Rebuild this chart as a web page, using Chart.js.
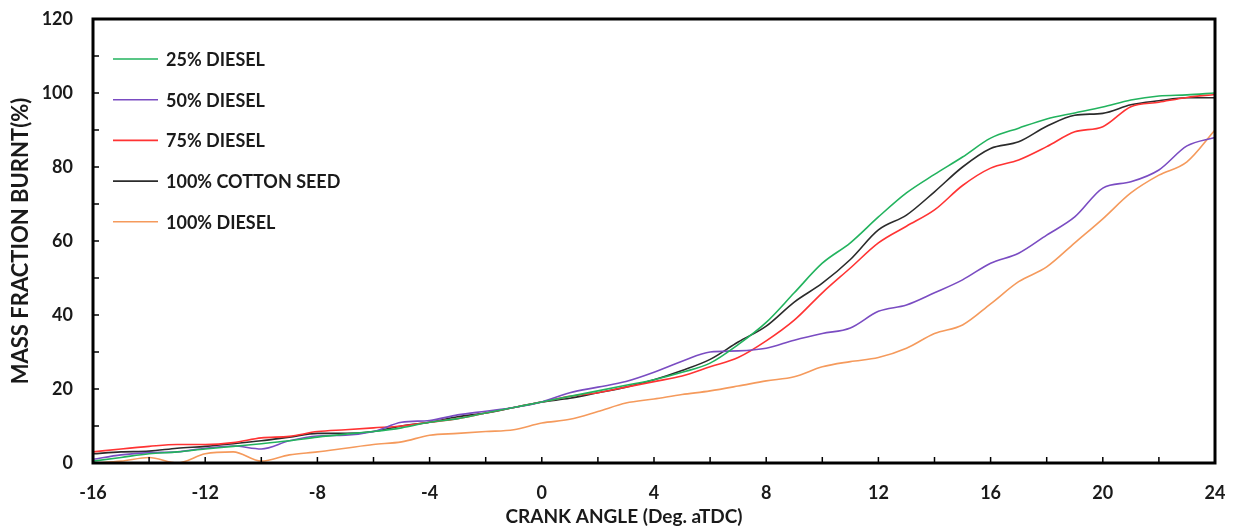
<!DOCTYPE html>
<html>
<head>
<meta charset="utf-8">
<script src="https://cdn.jsdelivr.net/npm/chart.js@4/dist/chart.umd.min.js"></script>
<style>
  html, body { margin: 0; padding: 0; background: #ffffff; }
  #wrap { width: 1233px; height: 527px; position: relative; }
</style>
</head>
<body>
<div id="wrap"><canvas id="c" width="1233" height="527"></canvas></div>
<script>
// Crank angle (deg aTDC)
const crankAngle = [-16,-15,-14,-13,-12,-11,-10,-9,-8,-7,-6,-5,-4,-3,-2,-1,0,1,2,3,4,5,6,7,8,9,10,11,12,13,14,15,16,17,18,19,20,21,22,23,24];

const seriesNames = ["25% DIESEL", "50% DIESEL", "75% DIESEL", "100% COTTON SEED", "100% DIESEL"];
const seriesColors = ["#22b35e", "#7a4cc2", "#ff3333", "#2b2b2b", "#f59a5c"];

const diesel25 = [0.5,1.5,2.5,3,3.8,4.5,5.2,6,7,7.8,8.5,9.5,11,12,13.5,15,16.5,18,19.5,21,22.5,24.5,27,32,38,46,54,59.5,66.5,73,78,82.7,87.8,90.5,93,94.6,96.2,98.1,99.2,99.5,100];
const diesel50 = [1,2.2,2.8,3,4,4.6,3.8,6,7.3,7.5,8.5,11,11.5,13,14,15,16.5,19,20.5,22,24.5,27.5,30,30.3,31,33.2,35,36.5,41,42.7,46,49.5,54,56.7,61.6,66.5,74.3,76,79.2,85.7,88];
const diesel75 = [3,3.8,4.5,5,5,5.5,6.8,7.2,8.5,9,9.5,10,11,12,13.5,15,16.5,18,19,20.5,22,23.5,26,28.5,33,38.6,46,52.7,59.5,64,68.4,75,79.7,81.9,85.5,89.5,90.9,96.3,97.5,98.8,99.6];
const cottonSeed100 = [2.5,3,3.2,4,4.5,5.2,6,7,8,8,8.5,10,11,12.5,13.5,15,16.5,17.5,19,20.5,22.5,25,28,32.7,37,43.5,48.6,55,63,67,73.3,80,85,86.8,91,94,94.5,96.8,97.9,98.7,98.7];
const diesel100 = [0,0.5,1.5,0,2.5,3,0.5,2.2,3,4,5,5.7,7.5,8,8.5,9,10.8,11.8,13.9,16.2,17.3,18.5,19.5,20.8,22.2,23.3,26,27.4,28.5,31,35,37.3,43,49,53,59.5,66,73,77.8,81.4,90];

const xTicks = [-16,-12,-8,-4,0,4,8,12,16,20,24];
const yTicks = [0,20,40,60,80,100,120];
const xTitle = 'CRANK ANGLE (Deg. aTDC)';
const yTitle = 'MASS FRACTION BURNT(%)';

const allSeries = [diesel25, diesel50, diesel75, cottonSeed100, diesel100];

const datasets = allSeries.map((vals, i) => ({
  label: seriesNames[i],
  data: vals.map((v, j) => ({ x: crankAngle[j], y: v })),
  borderColor: seriesColors[i],
  backgroundColor: seriesColors[i],
  borderWidth: 1.6,
  pointRadius: 0,
  tension: 0.4,
  cubicInterpolationMode: 'monotone',
  fill: false
}));

const FONT = "Lato, 'Open Sans', 'Liberation Sans', sans-serif";

function zeroPad(scale) {
  scale.paddingTop = 0; scale.paddingBottom = 0;
  scale.paddingLeft = 0; scale.paddingRight = 0;
}

const frameAndTicks = {
  id: 'frameAndTicks',
  afterDatasetsDraw(chart) {
    const { ctx, chartArea: a, scales } = chart;
    const xs = scales.x, ys = scales.y;
    ctx.save();
    ctx.strokeStyle = '#000';
    ctx.lineWidth = 1.5;
    for (let v = -16; v <= 24; v += 2) {
      const px = xs.getPixelForValue(v);
      ctx.beginPath(); ctx.moveTo(px, a.bottom); ctx.lineTo(px, a.bottom - 6); ctx.stroke();
    }
    for (let v = 0; v <= 120; v += 10) {
      const py = ys.getPixelForValue(v);
      ctx.beginPath(); ctx.moveTo(a.left, py); ctx.lineTo(a.left + 6, py); ctx.stroke();
    }
    ctx.lineWidth = 3;
    ctx.strokeRect(a.left, a.top, a.right - a.left, a.bottom - a.top);
    // legend inside plot
    ctx.font = "bold 18px " + FONT;
    ctx.textBaseline = 'middle';
    ctx.textAlign = 'left';
    chart.data.datasets.forEach((ds, i) => {
      const y = a.top + 40 + i * 40.7;
      ctx.strokeStyle = ds.borderColor;
      ctx.lineWidth = 1.6;
      ctx.beginPath(); ctx.moveTo(a.left + 20, y); ctx.lineTo(a.left + 65, y); ctx.stroke();
      ctx.fillStyle = '#1a1a1a';
      ctx.fillText(ds.label, a.left + 73, y + 1);
    });
    // x axis title
    ctx.font = "bold 19px " + FONT;
    ctx.textAlign = 'center';
    ctx.fillText(xTitle, 624, 517);
    ctx.restore();
  }
};

new Chart(document.getElementById('c'), {
  type: 'line',
  data: { datasets },
  options: {
    responsive: false,
    animation: false,
    layout: { padding: { top: 19, right: 18, left: 0, bottom: 0 } },
    plugins: { legend: { display: false }, tooltip: { enabled: false } },
    scales: {
      x: {
        type: 'linear',
        min: -16, max: 24,
        afterBuildTicks(scale) { scale.ticks = xTicks.map(v => ({ value: v })); },
        afterFit(scale) { scale.height = 64; zeroPad(scale); },
        grid: { display: false, drawTicks: false },
        border: { display: false },
        ticks: { padding: 19, color: '#1a1a1a', font: { family: FONT, size: 18, weight: 'bold' } },
        title: { display: false }
      },
      y: {
        type: 'linear',
        min: 0, max: 120,
        afterBuildTicks(scale) { scale.ticks = yTicks.map(v => ({ value: v })); },
        afterFit(scale) { scale.width = 93; zeroPad(scale); },
        grid: { display: false, drawTicks: false },
        border: { display: false },
        ticks: { padding: 20, color: '#1a1a1a', font: { family: FONT, size: 18, weight: 'bold' } },
        title: { display: true, text: yTitle, color: '#1a1a1a', padding: { top: 8, bottom: 0 },
                 font: { family: FONT, size: 22, weight: 'bold' } }
      }
    }
  },
  plugins: [frameAndTicks]
});
</script>
</body>
</html>
